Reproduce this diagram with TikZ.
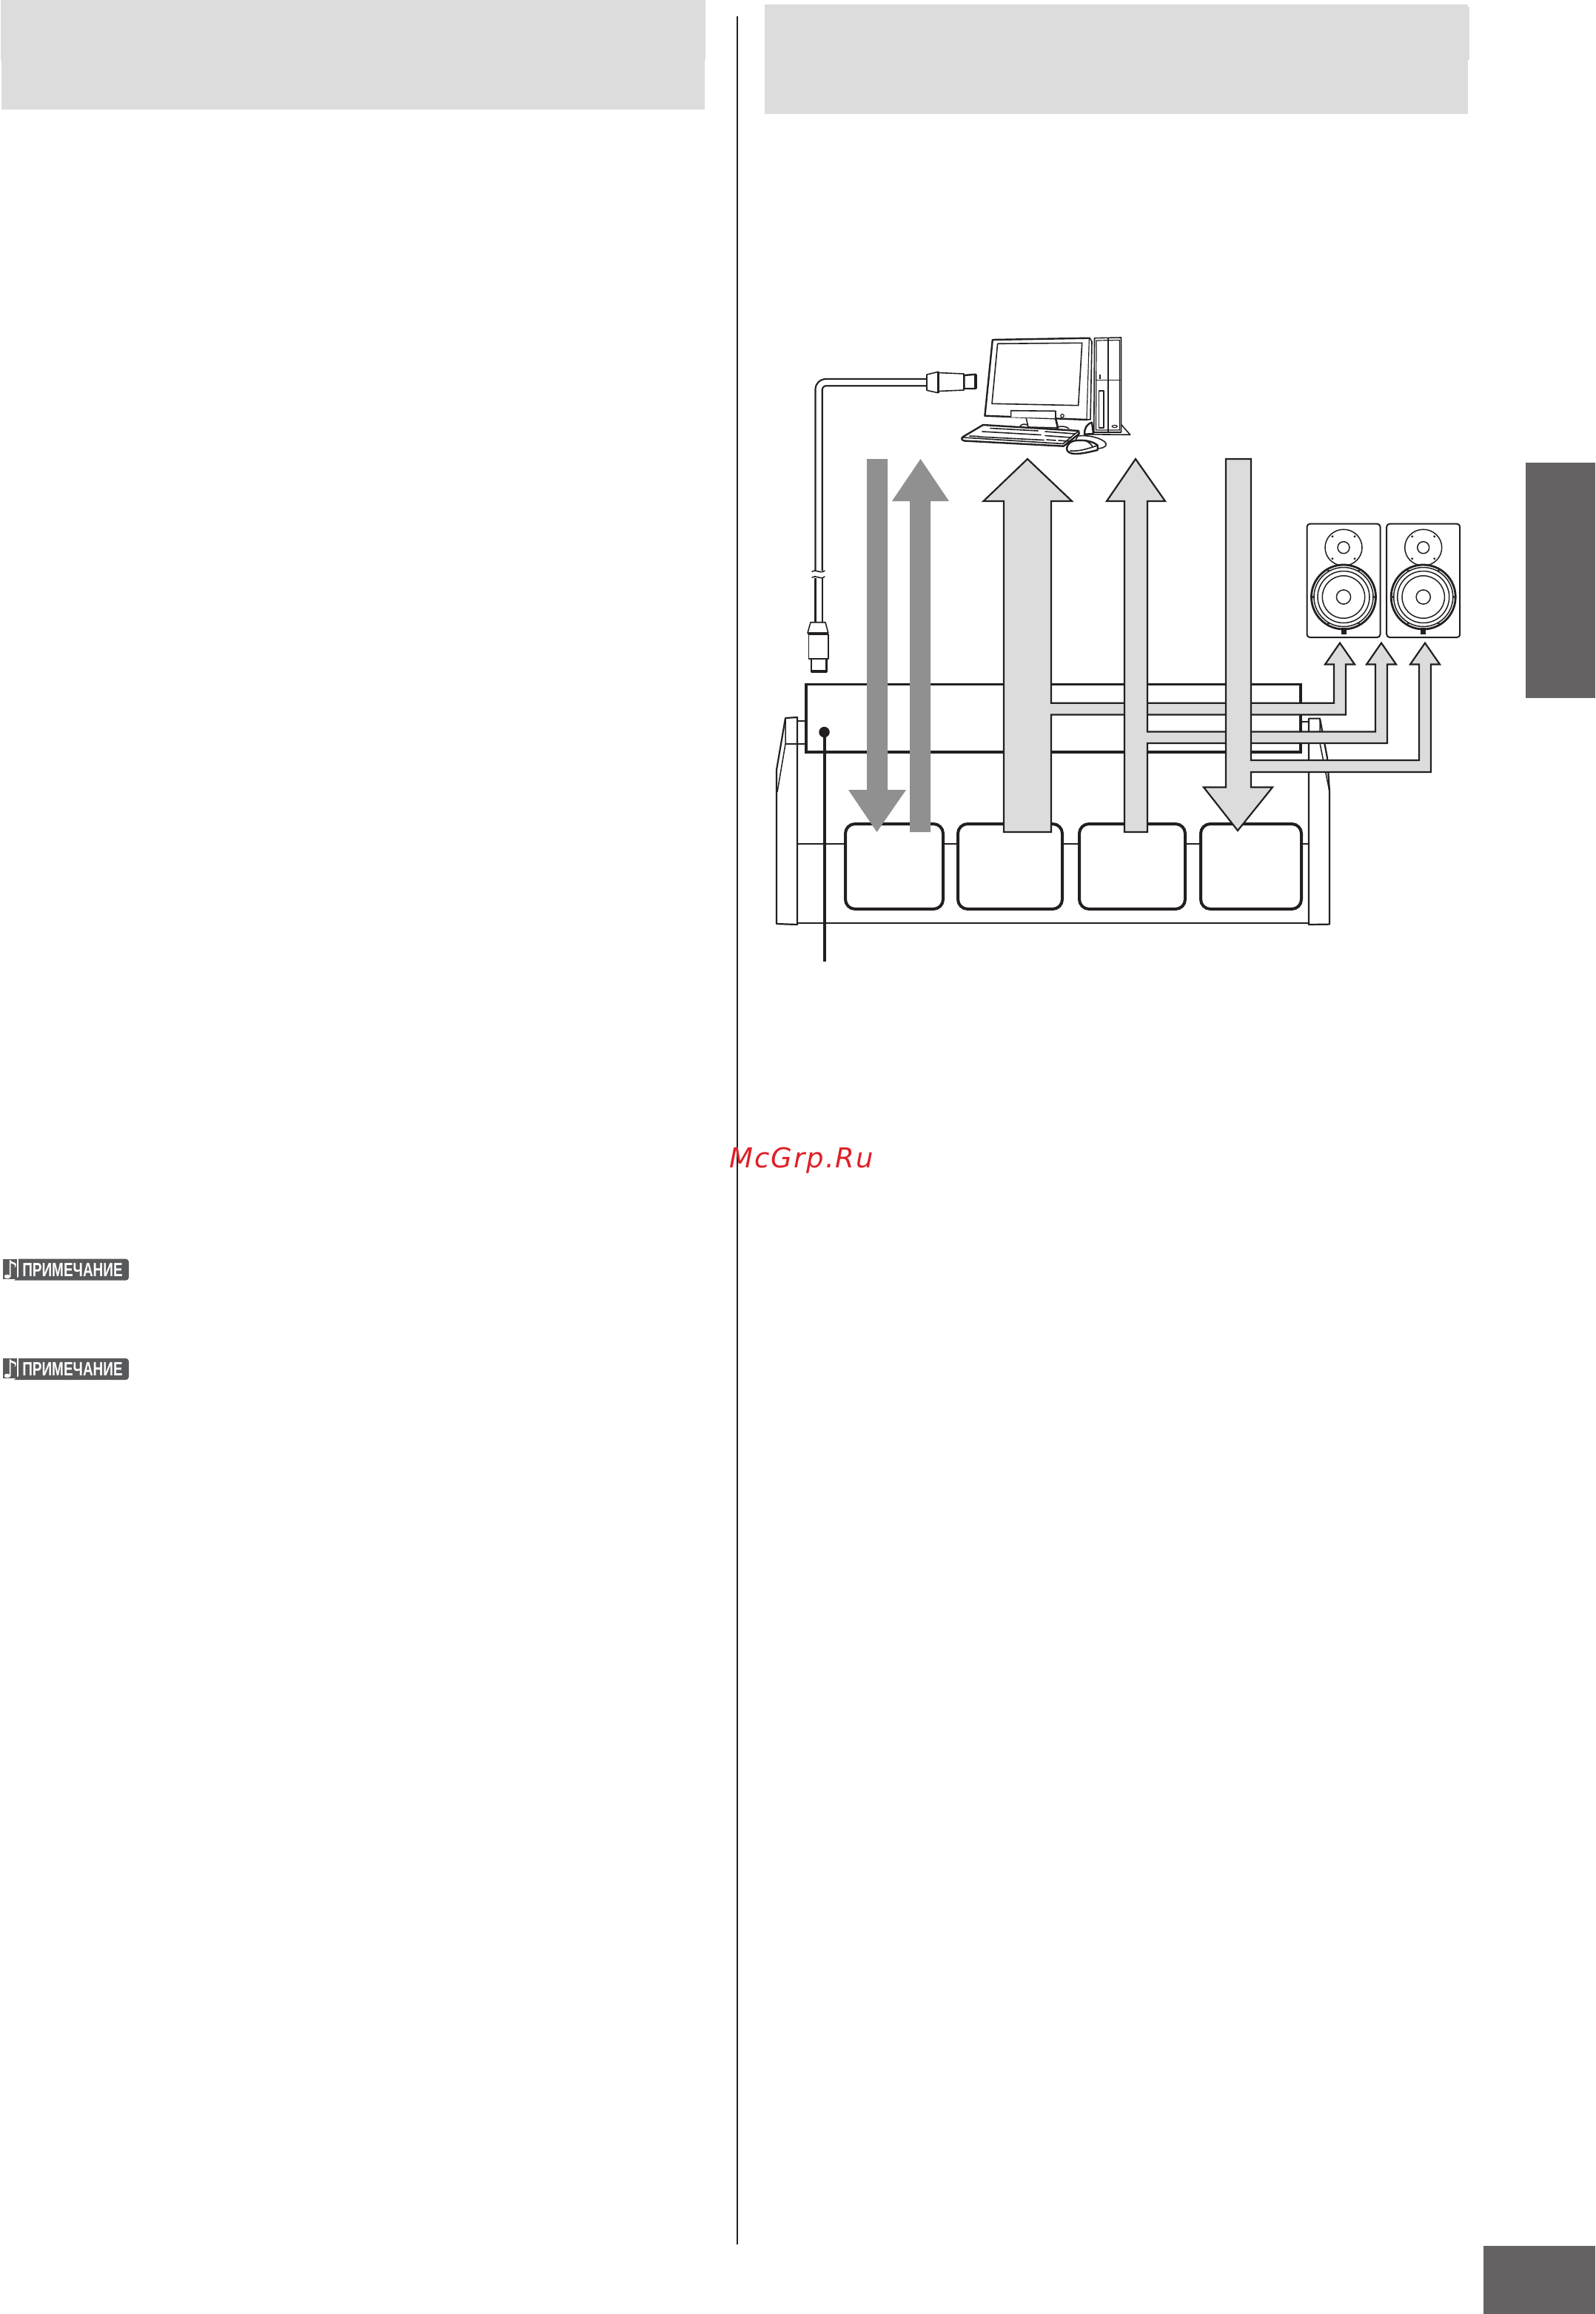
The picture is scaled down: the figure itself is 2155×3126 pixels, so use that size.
\documentclass[tikz,border=0pt]{standalone}
\usepackage{fontspec}
\newfontfamily\wmfont[LetterSpace=5.5]{DejaVu Sans}
\newfontfamily\notefont{Liberation Sans}
\newfontfamily\symfont{DejaVu Sans}
\definecolor{ink}{HTML}{231F20}
\definecolor{headgray}{HTML}{DCDCDC}
\definecolor{arrowgray}{HTML}{919091}
\definecolor{tabgray}{HTML}{656263}
\definecolor{notegray}{HTML}{58595B}
\definecolor{wmred}{HTML}{DF2027}
\tikzset{
  headband/.style={fill=headgray,draw=none},
  tabblock/.style={fill=tabgray,draw=none},
  thickline/.style={draw=ink,line width=3.2pt},
  thinline/.style={draw=ink,line width=1.5pt},
  midline/.style={draw=ink,line width=2.2pt},
  keybox/.style={draw=ink,fill=white,line width=4pt,rounded corners=13pt},
  lightarrow/.style={fill=headgray,draw=ink,line width=2.2pt,miter limit=10},
  darkarrow/.style={fill=arrowgray,draw=none},
  pcline/.style={draw=ink,line width=1.6pt,line join=round,line cap=round},
  pcthick/.style={draw=ink,line width=2.4pt,line join=round,line cap=round},
  notelabel/.pic={
    \fill[notegray] (4,0) rectangle (23,27);
    \fill[notegray] (25,0) -- (170,0) arc[start angle=90,end angle=0,radius=4pt] -- (174,25) arc[start angle=0,end angle=-90,radius=4pt] -- (19,29) -- (25,24) -- cycle;
    \node[text=white,inner sep=0pt,font=\symfont\bfseries\fontsize{34}{34}\selectfont] (glyph) at (14,14) {♪};
    \node[text=white,inner sep=0pt,xscale=0.73,font=\notefont\bfseries\fontsize{26}{26}\selectfont] (word) at (98,15) {ПРИМЕЧАНИЕ};
  },
  speaker/.pic={
    \draw[draw=ink,line width=2pt,fill=white,rounded corners=4pt] (-49.5,707.7) rectangle (49.5,861);
    \draw[thinline] (0,739.7) ellipse[x radius=25pt,y radius=24.5pt];
    \draw[thinline] (0,739.7) circle (8pt);
    \foreach \dx/\dy in {-15/-15,15/-15,-15/15,15/15}{\fill[ink] (\dx,739.7+\dy) circle (1.6pt);}
    \draw[draw=ink,fill=white,line width=2.8pt] (0,806.5) circle (43.5pt);
    \draw[thinline] (0,806.5) circle (40pt);
    \draw[thinline] (0,806.5) circle (35pt);
    \draw[thinline] (0,806.5) circle (28.7pt);
    \draw[thinline] (0,806.5) circle (9.6pt);
    \foreach \a in {0,60,120,180,240,300}{\fill[ink] (\a:41pt)++(0,806.5) circle (1.6pt);}
    \fill[ink] (-3.5,847.5) rectangle (3.5,857);
  }
}
\begin{document}
\begin{tikzpicture}[x=1pt,y=-1pt]
\useasboundingbox (0,0) rectangle (2155,3126);
% page furniture
\fill[headband] (0.7,0) rectangle (953,81);
\fill[headband] (2,0) rectangle (952,148);
\fill[headband] (1033,6) rectangle (1983,153.7);
\fill[headband] (1033,9) rectangle (1985,81);
\draw[draw=ink,line width=2.5pt] (996,22) -- (996,3032);
\fill[tabblock] (2061,625) rectangle (2155,943);
\fill[tabblock] (2004,3034) rectangle (2155,3126);
\pic at (0,1700.7) {notelabel};
\pic at (0,1835) {notelabel};
% piano: left side
\draw[midline,line join=round] (1061,970) -- (1077,969) -- (1077,1249) -- (1049,1248) -- (1049,1040) -- cycle;
\draw[thinline] (1061,970) -- (1061,1005) -- (1050,1070);
\draw[thinline] (1061,1005) -- (1089,1005);
\draw[midline] (1077,974) -- (1089,974);
% piano: right side
\draw[midline,line join=round] (1768,970.6) -- (1783,970.6) -- (1793,1024) -- (1796,1069.5) -- (1796,1248.6) -- (1768,1249) -- cycle;
\draw[thinline] (1783,970.6) -- (1783,1004) -- (1796,1069.5);
\draw[thinline] (1768,1004) -- (1783,1004);
\draw[midline] (1757,974.6) -- (1768,974.6);
\draw[midline] (1077,1247) -- (1768,1247);
\draw[thinline] (1077,1140) -- (1768,1140);
% hub
\draw[thickline,fill=white] (1089,924.3) rectangle (1757,1016);
% key boxes
\draw[keybox] (1142,1113) rectangle (1274,1228);
\draw[keybox] (1294,1113) rectangle (1435,1228);
\draw[keybox] (1458,1113) rectangle (1601,1228);
\draw[keybox] (1622,1113) rectangle (1758,1228);
% leader
\node[circle,fill=ink,inner sep=0pt,minimum size=14.5pt] (dot) at (1113.5,989) {};
\coordinate (leaderend) at (1114,1299);
\draw[draw=ink,line width=4pt] (1114,989) -- (leaderend);
% dark arrows
\fill[darkarrow] (1171,620) -- (1199,620) -- (1199,1067) -- (1224,1067) -- (1184.5,1124) -- (1146,1067) -- (1171,1067) -- cycle;
\fill[darkarrow] (1243.5,620) -- (1282,677) -- (1257,677) -- (1257,1124) -- (1229,1124) -- (1229,677) -- (1205,677) -- cycle;
% light arrows
\draw[lightarrow] (1388,620) -- (1448,677) -- (1420,677) -- (1420,949.7) -- (1802,949.7) -- (1802,897.5) -- (1790,897.5) -- (1810,868.6) -- (1830,897.5) -- (1818,897.5) -- (1818,965.5) -- (1420,965.5) -- (1420,1124) -- (1356,1124) -- (1356,677) -- (1328.5,677) -- cycle;
\draw[lightarrow] (1534,620) -- (1574,677) -- (1550,677) -- (1550,988.4) -- (1858,988.4) -- (1858,897.5) -- (1846,897.5) -- (1866,868.6) -- (1886,897.5) -- (1874,897.5) -- (1874,1004) -- (1550,1004) -- (1550,1124) -- (1519,1124) -- (1519,677) -- (1495,677) -- cycle;
\draw[lightarrow] (1656,620) -- (1690,620) -- (1690,1027) -- (1917,1027) -- (1917,897.5) -- (1905,897.5) -- (1925,868.6) -- (1945,897.5) -- (1933,897.5) -- (1933,1043) -- (1690,1043) -- (1690,1063.5) -- (1719,1063.5) -- (1672,1122) -- (1626,1063.5) -- (1656,1063.5) -- cycle;
% speakers
\pic at (1815,0) {speaker};
\pic at (1922.7,0) {speaker};
% cable
\draw[draw=ink,line width=11.5pt,line join=round] (1252,516.5) -- (1116,516.5) arc[start angle=90,end angle=180,radius=10pt] -- (1106,771);
\draw[draw=white,line width=7pt] (1254,516.5) -- (1116,516.5) arc[start angle=90,end angle=180,radius=10pt] -- (1106,771);
\draw[draw=ink,line width=11.5pt] (1106,781) -- (1106,842);
\draw[draw=white,line width=7pt] (1106,779) -- (1106,842);
\draw[pcline] (1097,772) .. controls (1102,768) and (1108,776) .. (1114,771);
\draw[pcline] (1097,780) .. controls (1102,776) and (1108,784) .. (1114,779);
% upper plug
\draw[pcline,fill=white] (1252,506) -- (1267.3,502.3) -- (1267.3,530.7) -- (1252,527.3) -- cycle;
\draw[pcline,fill=white] (1267.3,503.5) -- (1302,505) -- (1302,527) -- (1267.3,528.5) -- cycle;
\draw[draw=ink,line width=3.5pt] (1267.3,502.3) -- (1267.3,530.7);
\draw[pcthick,fill=white] (1302.5,518) -- (1302.5,507) -- (1318,505.7) -- (1318,525) -- (1302.5,525) -- cycle;
\draw[draw=ink,line width=3.5pt] (1318,505.7) -- (1318,525);
% lower plug
\draw[pcline,fill=white] (1095,840.7) -- (1115,840.7) -- (1118.8,855) -- (1091,855) -- cycle;
\draw[draw=ink,line width=3.5pt] (1091,855.5) -- (1118.8,855.5);
\draw[pcline,fill=white] (1092.4,856.7) -- (1118.8,856.7) -- (1118.8,890) -- (1092.4,890) -- cycle;
\draw[pcthick,fill=white] (1095.8,890) -- (1116.5,890) -- (1116.5,907.3) -- (1095.8,907.3) -- cycle;
\draw[draw=ink,line width=3.5pt] (1095.8,907) -- (1116.5,907);
% tower stand
\draw[pcline,fill=white] (1464.4,586.7) -- (1526.7,587.3) -- (1515,574) -- (1500,574) -- cycle;
\draw[pcthick,fill=white] (1475,570.7) .. controls (1468,573) and (1465,578) .. (1465,586.7) -- (1477,586) -- cycle;
% tower
\draw[pcline,fill=white] (1478.5,456.7) -- (1514.5,456) -- (1514.5,584) -- (1477.8,584) -- cycle;
\draw[draw=ink,line width=1.2pt] (1481,460) -- (1512.5,459.5) -- (1512.5,581) -- (1480.5,581) -- cycle;
\draw[pcline] (1497,457) -- (1497,584);
\draw[pcline] (1481,513.3) -- (1513,513.3);
\draw[pcline] (1484.3,527.7) rectangle (1491,577.7);
\draw[draw=ink,line width=2pt] (1486,506) -- (1486,511.7);
\draw[draw=ink,line width=1.2pt] (1505.7,576) ellipse[x radius=3.5pt,y radius=1.6pt];
% monitor stand
\draw[pcline,fill=white] (1378,576) .. controls (1380,572) and (1385,573) .. (1388,574) -- (1429,577) .. controls (1434,575) and (1440,576) .. (1444,579);
\draw[pcline,fill=white] (1386,564) -- (1389,577) -- (1429,578) -- (1426,565) -- cycle;
\draw[draw=ink,line width=2.6pt] (1426,565) -- (1429,578);
% monitor
\draw[pcthick,fill=white] (1340.8,459) -- (1472,456.7) -- (1468.6,567) -- (1330.4,561.7) -- cycle;
\draw[pcline,fill=white] (1472,456.7) -- (1475,461.7) -- (1473,566.7) -- (1468.6,567);
\draw[pcline] (1347.6,464.3) -- (1461.7,463.3) -- (1456.7,547.7) -- (1340,545.3) -- cycle;
\draw[pcline,fill=white] (1365.6,563.5) -- (1365.6,554.7) -- (1426,555.3) -- (1426,565);
\draw[draw=ink,line width=1.2pt] (1435,561.7) circle (2.2pt);
% keyboard
\draw[pcthick,fill=white] (1328,574) -- (1457,582) -- (1457.7,586) -- (1436.7,602.7) -- (1303,595.5) .. controls (1299,595) and (1298,591.5) .. (1301,590) -- cycle;
\draw[pcline] (1301,591) -- (1436,599.5) -- (1456,583);
\draw[pcline] (1338,578.5) -- (1402,582);
\draw[pcline] (1412,583) -- (1452,586);
\draw[pcline] (1327,583) -- (1406,587.5);
\draw[pcline] (1412,588.5) -- (1447,591);
\draw[pcline] (1322,590) -- (1410,594.5);
\draw[pcline] (1414,594) -- (1426,595);
\draw[pcline] (1430,595) -- (1444,596);
\draw[pcline] (1310,589) -- (1322,589.5);
% mouse pad + mouse
\draw[pcline,fill=white] (1456,589) .. controls (1470,587) and (1490,592) .. (1494,599) .. controls (1496,604) and (1488,606) .. (1480,606) -- (1450,600) -- cycle;
\draw[pcthick,fill=white] (1441,606) .. controls (1441,600) and (1447,595) .. (1456,595) .. controls (1466,594) and (1478,597) .. (1482.7,601.7) -- (1482.7,608) .. controls (1470,611) and (1462,613) .. (1452,613) .. controls (1445,613) and (1441,610) .. (1441,606) -- cycle;
\draw[pcline] (1446,609) .. controls (1458,610) and (1470,606) .. (1482,602);
\draw[pcline] (1466,595) .. controls (1472,598) and (1475,601) .. (1476,604);
% watermark
\node[anchor=base west,inner sep=0pt,text=wmred,font=\wmfont\itshape\fontsize{37}{40}\selectfont] (wm) at (985,1577) {McGrp.Ru};
\end{tikzpicture}
\end{document}
